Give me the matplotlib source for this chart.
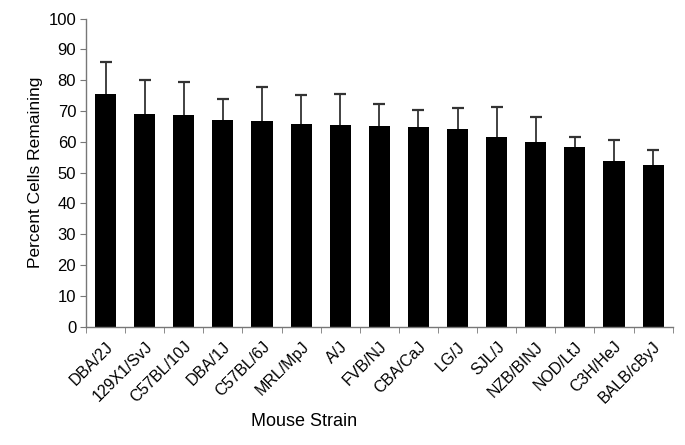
import numpy as np
import matplotlib.pyplot as plt
from matplotlib.transforms import ScaledTranslation

plt.rcParams.update({
    "font.family": ["Liberation Sans", "DejaVu Sans"],
})

strains = ["DBA/2J", "129X1/SvJ", "C57BL/10J", "DBA/1J", "C57BL/6J", "MRL/MpJ",
           "A/J", "FVB/NJ", "CBA/CaJ", "LG/J", "SJL/J", "NZB/BINJ", "NOD/LtJ",
           "C3H/HeJ", "BALB/cByJ"]
means = [75.6, 69.0, 68.6, 67.0, 66.7, 65.9, 65.6, 65.2, 64.8, 64.2, 61.6,
         60.0, 58.4, 53.7, 52.5]
err_top = [85.9, 80.1, 79.3, 73.9, 77.7, 75.2, 75.5, 72.2, 70.5, 71.1, 71.4,
           68.0, 61.7, 60.7, 57.4]

errs = np.array(err_top) - np.array(means)
x = np.arange(len(strains))

fig = plt.figure(figsize=(6.85, 4.45), dpi=100)
ax = fig.add_axes([0.1255, 0.266, 0.8565, 0.692])

ax.bar(x, means, width=0.54, color="black", zorder=2)
eb = ax.errorbar(x, means, yerr=[np.zeros_like(errs), errs], fmt="none",
                 ecolor="#333333", elinewidth=1.3, capsize=4, capthick=1.6, zorder=1)
# only the upper cap
eb[1][0].set_visible(False)

ax.set_xlim(-0.5, len(strains) - 0.5)
ax.set_ylim(0, 100)
ax.set_yticks(range(0, 101, 10))
ax.set_xticks(x)
ax.set_xticklabels(strains, rotation=45, ha="right", va="top",
                   rotation_mode="anchor", fontsize=11.5)
shift = ScaledTranslation(0.12, 0, fig.dpi_scale_trans)
for lab in ax.get_xticklabels():
    lab.set_transform(lab.get_transform() + shift)
ax.set_xticks(np.arange(-0.5, len(strains)), minor=True)
ax.tick_params(axis="x", which="major", length=0, pad=9)
ax.tick_params(axis="x", which="minor", length=4, color="#777777", direction="out")
ax.tick_params(axis="y", length=4, color="#777777", labelsize=12, pad=3)

for side in ["top", "right"]:
    ax.spines[side].set_visible(False)
for side in ["left", "bottom"]:
    ax.spines[side].set_color("#777777")
    ax.spines[side].set_linewidth(1.0)

ax.set_ylabel("Percent Cells Remaining", fontsize=12.5, labelpad=4)
fig.text(304 / 685, 1 - 422 / 445, "Mouse Strain", fontsize=13,
         ha="center", va="center")

fig.savefig("out.png", dpi=100)
